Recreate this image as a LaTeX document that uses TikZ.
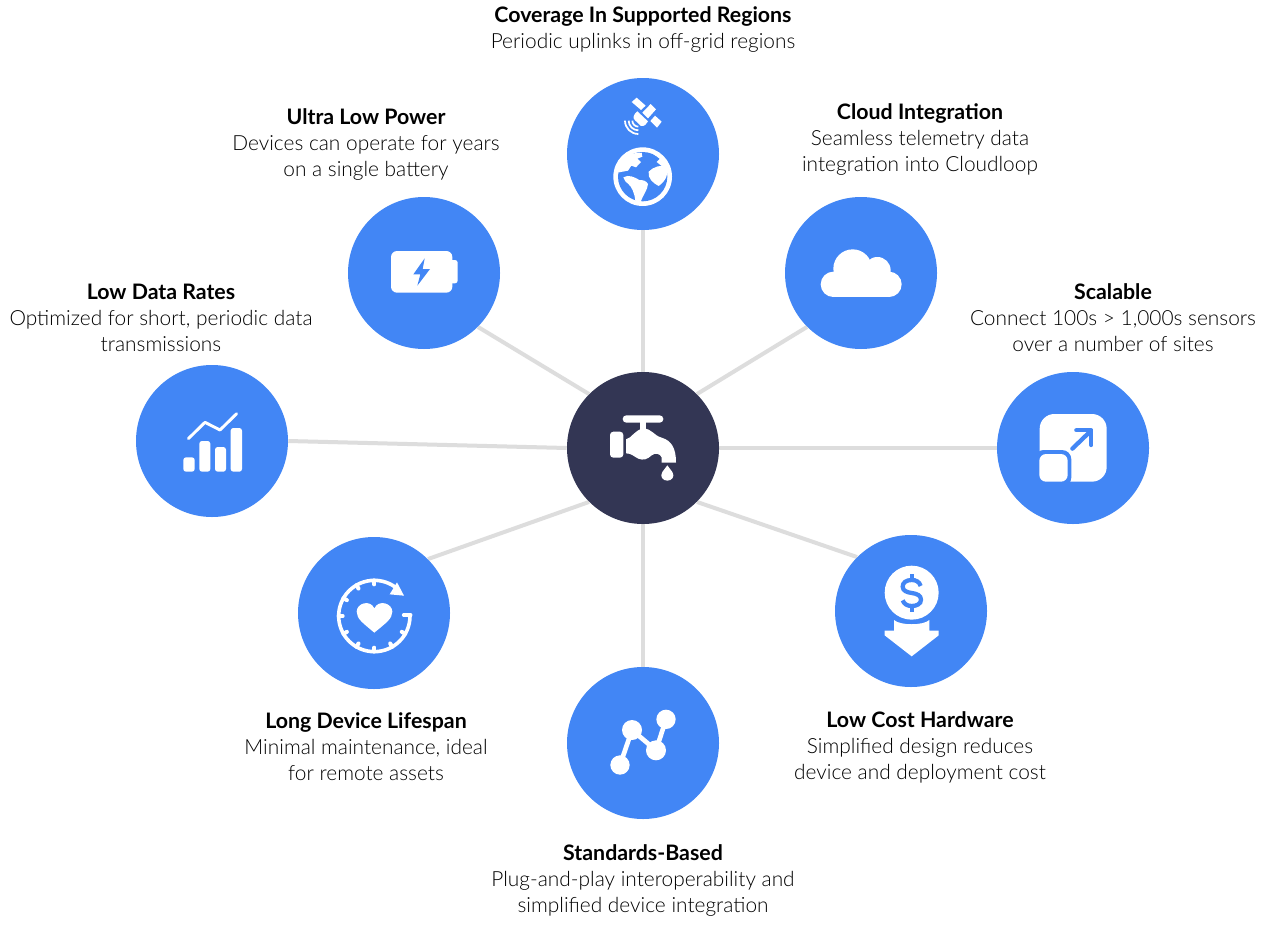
\documentclass[tikz,border=0pt]{standalone}
\usepackage{fontspec}
\setmainfont{Lato}
\newfontfamily\lightf{Lato Light}
\usetikzlibrary{backgrounds}
\definecolor{bblue}{HTML}{4286F5}
\definecolor{navy}{HTML}{333654}
\definecolor{spoke}{HTML}{DDDDDD}
\newcommand{\ttl}[1]{{\fontsize{16pt}{19.5pt}\selectfont\normalfont\bfseries #1}}
\tikzset{
  bubble/.style={circle,fill=bblue,minimum size=114pt,inner sep=0pt,draw=none},
  hubnode/.style={circle,fill=navy,minimum size=114pt,inner sep=0pt,draw=none},
  spokeline/.style={draw=spoke,line width=3pt},
  txt/.style={align=center,inner sep=0pt,font=\fontsize{15.65pt}{19.5pt}\selectfont\lightf},
  zm/.style n args={2}{shift={(#1,#2)},x=.25pt,y=-.25pt},
  ic/.style={fill=white,draw=none},
  icb/.style={fill=bblue,draw=none}
}
\begin{document}
\begin{tikzpicture}[x=.75pt,y=-.75pt]
\useasboundingbox (0,0) rectangle (1269,924);
\node[hubnode] (hub) at (643,448) {};
\node[bubble] (top) at (643,154) {};
\node[bubble] (cloud) at (861,273) {};
\node[bubble] (scale) at (1073,448) {};
\node[bubble] (cost) at (911,611) {};
\node[bubble] (std) at (643,743) {};
\node[bubble] (life) at (374,613) {};
\node[bubble] (data) at (212,441) {};
\node[bubble] (power) at (424,273) {};
\begin{scope}[on background layer]
\fill[white] (0,0) rectangle (1269,924);
\draw[spokeline] (hub.90) -- (top.-90);
\draw[spokeline] (hub.45) -- (cloud.225);
\draw[spokeline] (hub.0) -- (scale.180);
\draw[spokeline] (hub.-45) -- (cost.135);
\draw[spokeline] (hub.-90) -- (std.90);
\draw[spokeline] (hub.225) -- (life.45);
\draw[spokeline] (hub.180) -- (data.0);
\draw[spokeline] (hub.135) -- (power.-45);
\end{scope}
% labels
\node[txt] (t1) at (643,29.6) {\ttl{Coverage In Supported Regions}\\Periodic uplinks in off-grid regions};
\node[txt] (t2) at (366,144.5) {\ttl{Ultra Low Power}\\Devices can operate for years\\on a single battery};
\node[txt] (t3) at (920,139.5) {\ttl{Cloud Integration}\\Seamless telemetry data\\integration into Cloudloop};
\node[txt] (t4) at (1113,318) {\ttl{Scalable}\\Connect 100s > 1,000s sensors\\over a number of sites};
\node[txt] (t5) at (161,318) {\ttl{Low Data Rates}\\Optimized for short, periodic data\\transmissions};
\node[txt] (t6) at (366,747) {\ttl{Long Device Lifespan}\\Minimal maintenance, ideal\\for remote assets};
\node[txt] (t7) at (920,747) {\ttl{Low Cost Hardware}\\Simplified design reduces\\device and deployment cost};
\node[txt] (t8) at (643,880) {\ttl{Standards-Based}\\Plug-and-play interoperability and\\simplified device integration};
% satellite + globe
\begin{scope}[zm={560}{70}]
\fill[ic] (230,83)--(257,107)--(243,120)--(215,96)--cycle;
\fill[ic] (272,102)--(288,118)--(264,145)--(247,128)--cycle;
\fill[ic] (285,137)--(305,155)--(291,173)--(271,153)--cycle;
\fill[ic] (232,124) .. controls (220,133) and (218,144) .. (224,150) -- (243,168) .. controls (253,170) and (260,162) .. (264,154) -- cycle;
\foreach \r in {18,29,40}{
  \draw[white,line width=1.3pt] (235-\r,152) arc[start angle=180,end angle=90,radius=\r];
}
\fill[ic] (248,320) circle[radius=88];
\fill[icb] (248,320) circle[radius=74];
\fill[ic] (200,252) -- (245,248) -- (247,260) -- (232,266) -- (243,276) -- (228,292) -- (214,287) -- (204,302) -- (172,308) -- (176,275) -- cycle;
\fill[ic] (280,252) -- (312,268) -- (322,292) -- (305,288) -- (290,276) -- (300,266) -- cycle;
\fill[ic] (266,305) .. controls (280,290) and (305,283) .. (322,290) .. controls (326,312) and (318,332) .. (296,348) .. controls (280,340) and (262,325) .. (266,305) -- cycle;
\fill[ic] (190,322) .. controls (205,312) and (225,322) .. (238,330) .. controls (250,330) and (258,332) .. (264,342) .. controls (262,362) and (250,372) .. (242,396) -- (226,392) .. controls (224,370) and (215,350) .. (205,342) .. controls (198,338) and (192,330) .. (190,322) -- cycle;
\end{scope}
% tap
\begin{scope}[zm={560}{370}]
\fill[ic,rounded corners=2.7pt] (188,136) rectangle (310,158);
\fill[ic] (240,155) rectangle (258,185);
\fill[ic,rounded corners=2.5pt] (150,185) rectangle (190,263);
\fill[ic] (198,208) .. controls (215,205) and (225,178) .. (250,176) .. controls (275,175) and (280,196) .. (305,203) .. controls (335,212) and (348,235) .. (348,278) -- (305,278) -- (305,262) .. controls (300,250) and (285,248) .. (275,256) .. controls (262,268) and (250,272) .. (235,266) .. controls (222,260) and (215,250) .. (198,250) -- cycle;
\fill[ic] (322,286) -- (337,306) .. controls (346,320) and (335,332) .. (322,332) .. controls (309,332) and (298,320) .. (307,306) -- cycle;
\end{scope}
% cost
\begin{scope}[zm={830}{530}]
\fill[ic] (245,188) circle[radius=81];
\draw[bblue,line width=3.2pt] (272,168) .. controls (268,155) and (258,150) .. (245,150) .. controls (228,150) and (218,158) .. (218,170) .. controls (218,183) and (232,187) .. (245,189) .. controls (260,191) and (273,196) .. (273,209) .. controls (273,222) and (260,228) .. (245,228) .. controls (232,228) and (222,222) .. (218,211);
\draw[bblue,line width=3pt] (245,132) -- (245,150) (245,228) -- (245,246);
\fill[ic] (192,270) .. controls (210,287) and (280,287) .. (298,270) -- (298,302) -- (326,302) -- (326,316) -- (245,379) -- (164,316) -- (164,302) -- (192,302) -- cycle;
\end{scope}
% lifespan
\begin{scope}[zm={295}{535}]
\draw[white,line width=2.7pt] (345,243) arc[start angle=0,end angle=308,radius=107];
\fill[ic] (306,142) -- (327,182) -- (284,178) -- cycle;
\foreach \a in {30,60,90,120,150,180,210,240,270}{
  \draw[white,line width=3pt,line cap=round] (238,243) ++(\a:107) -- ++(\a+180:12);
}
\draw[white,line width=2.7pt,line cap=round] (326,240) -- (347,240);
\fill[ic] (238,293) .. controls (205,265) and (185,252) .. (185,230) .. controls (185,205) and (225,192) .. (238,220) .. controls (251,192) and (292,205) .. (292,230) .. controls (292,252) and (271,265) .. (238,293) -- cycle;
\end{scope}
% scalable
\begin{scope}[zm={995}{370}]
\fill[ic,rounded corners=11pt] (134,132) rectangle (335,335);
\fill[icb,rounded corners=7pt] (118,240) rectangle (229,350);
\fill[ic,rounded corners=5pt] (133,252) rectangle (218,335);
\draw[bblue,line width=3.2pt,line cap=round] (232,236) -- (286,184);
\draw[bblue,line width=3.2pt,line cap=round,line join=round] (244,181) -- (289,181) -- (289,225);
\end{scope}
% data rates
\begin{scope}[zm={135}{365}]
\fill[ic,rounded corners=2pt] (145,277) rectangle (179,320);
\fill[ic,rounded corners=2pt] (193,228) rectangle (226,320);
\fill[ic,rounded corners=2pt] (240,246) rectangle (273,320);
\fill[ic,rounded corners=2pt] (287,189) rectangle (321,320);
\draw[white,line width=2.2pt,line cap=round,line join=round] (160,221) -- (210,172) -- (255,195) -- (305,146);
\end{scope}
% battery
\begin{scope}[zm={345}{195}]
\fill[ic,rounded corners=2pt] (310,195) rectangle (338,265);
\fill[ic,rounded corners=4.5pt] (138,168) rectangle (322,293);
\fill[icb] (239,190) -- (205,238) -- (226,238) -- (217,272) -- (255,222) -- (233,222) -- cycle;
\end{scope}
% cloud
\begin{scope}[zm={785}{197}]
\fill[ic] (145,262) circle[radius=38];
\fill[ic] (203,215) circle[radius=58];
\fill[ic] (277,220) circle[radius=40];
\fill[ic] (312,262) circle[radius=38];
\fill[ic] (145,232) rectangle (312,300);
\end{scope}
% standards
\begin{scope}[zm={565}{665}]
\draw[white,line width=3.5pt] (165,300) -- (201,195) -- (273,256) -- (303,163);
\fill[ic] (165,300) circle[radius=29];
\fill[ic] (201,195) circle[radius=30];
\fill[ic] (273,256) circle[radius=30];
\fill[ic] (303,163) circle[radius=29];
\end{scope}
\end{tikzpicture}
\end{document}
